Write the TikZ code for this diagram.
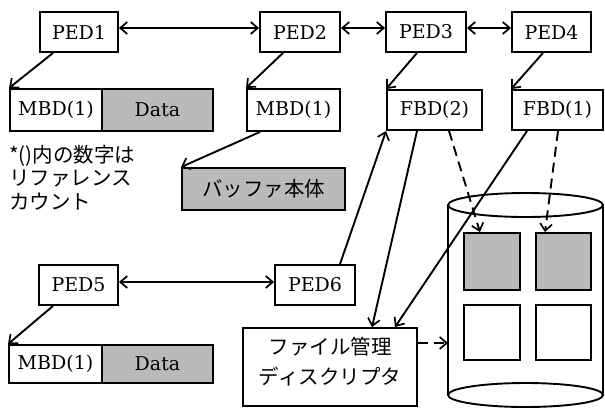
\documentclass[tikz,border=0pt]{standalone}
\usepackage{fontspec}
\setmainfont{DejaVu Serif}
\newfontfamily\jp{Noto Sans CJK JP}
\usetikzlibrary{arrows.meta,calc}
\begin{document}
\begin{tikzpicture}[x=1pt,y=-1pt,
  lw/.style={line width=1.9pt},
  box/.style={draw,lw,rectangle,inner sep=0pt,font=\fontsize{19}{22}\selectfont},
  grayfill/.style={fill=black!27},
  arr/.style={lw,-{Straight Barb[length=7pt,width=12pt,line width=1.7pt]}},
  darr/.style={lw,{Straight Barb[length=7pt,width=12pt,line width=1.7pt]}-{Straight Barb[length=7pt,width=12pt,line width=1.7pt]}},
  dsh/.style={arr,dash pattern=on 10pt off 6pt},
  jt/.style={font=\jp\fontsize{20.5}{23.5}\selectfont}
]
\useasboundingbox (0,0) rectangle (605,408);
% cylinder
\fill[white] (448,205) -- (448,395) arc[start angle=180,end angle=360,x radius=77.5,y radius=12] -- (603,205) -- cycle;
\draw[lw] (448,205) -- (448,395);
\draw[lw] (603,205) -- (603,395);
\draw[lw] (525.5,205) ellipse[x radius=77.5,y radius=12];
\draw[lw] (525.5,395) ellipse[x radius=77.5,y radius=12];
\coordinate (cylL) at (448,343);
% squares
\node[box,grayfill,minimum width=56pt,minimum height=57pt] (G1) at (492,261.5) {};
\node[box,grayfill,minimum width=55pt,minimum height=57pt] (G2) at (563.5,261.5) {};
\node[box,minimum width=56pt,minimum height=55pt] (W1) at (492,332.5) {};
\node[box,minimum width=55pt,minimum height=55pt] (W2) at (563.5,332.5) {};
% top row
\node[box,minimum width=78pt,minimum height=40pt] (PED1) at (79,32) {PED1};
\node[box,minimum width=80pt,minimum height=40pt] (PED2) at (300,32) {PED2};
\node[box,minimum width=80pt,minimum height=40pt] (PED3) at (426,32) {PED3};
\node[box,minimum width=79pt,minimum height=40pt] (PED4) at (551.5,32) {PED4};
% second row
\node[box,minimum width=92pt,minimum height=42pt] (MBDa) at (56,110) {MBD(1)};
\node[box,grayfill,minimum width=111pt,minimum height=42pt] (DataA) at (157.5,110) {Data};
\node[box,minimum width=93pt,minimum height=42pt] (MBDb) at (293.5,110) {MBD(1)};
\node[box,minimum width=95pt,minimum height=40pt] (FBD2) at (434.5,110) {FBD(2)};
\node[box,minimum width=91pt,minimum height=40pt] (FBD1) at (557.5,110) {FBD(1)};
% note
\node[jt,anchor=north west,align=left,inner sep=0pt] (note) at (9,145) {*()内の数字は\\リファレンス\\カウント};
% buffer
\node[box,grayfill,jt,minimum width=163pt,minimum height=42pt] (buf) at (263.5,189) {バッファ本体};
% lower
\node[box,minimum width=79pt,minimum height=40pt] (PED5) at (78.5,285) {PED5};
\node[box,minimum width=80pt,minimum height=40pt] (PED6) at (315,285) {PED6};
\node[box,minimum width=93pt,minimum height=38pt] (MBDc) at (55.5,364) {MBD(1)};
\node[box,grayfill,minimum width=111pt,minimum height=38pt] (DataC) at (157.5,364) {Data};
\node[box,minimum width=174pt,minimum height=78pt] (file) at (330,367) {};
\node[align=center,inner sep=0pt,font=\jp\fontsize{20.5}{30}\selectfont] (filetext) at (330,362) {ファイル管理\\ディスクリプタ};
% connectors
\draw[darr] ([yshift=4pt]PED1.east) -- ([yshift=4pt]PED2.west);
\draw[darr] ([yshift=4pt]PED2.east) -- ([yshift=4pt]PED3.west);
\draw[darr] ([yshift=4pt]PED3.east) -- ([yshift=4pt]PED4.west);
\draw[darr] ([yshift=3pt]PED5.east) -- ([yshift=3pt]PED6.west);
\draw[arr] ([xshift=-26pt]PED1.south) -- (MBDa.north west);
\draw[arr] ([xshift=-17pt]PED2.south) -- (MBDb.north west);
\draw[arr] ([xshift=-9pt]PED3.south) -- (FBD2.north west);
\draw[arr] ([xshift=-8.5pt]PED4.south) -- (FBD1.north west);
\draw[arr] ([xshift=-33.5pt]MBDb.south) -- (buf.north west);
\draw[arr] ([xshift=-25.5pt]PED5.south) -- (MBDc.north west);
\draw[arr] ([xshift=25pt]PED6.north) -- (FBD2.south west);
\draw[arr] ([xshift=-17.5pt]FBD2.south) -- ([xshift=42pt]file.north);
\draw[arr] ([xshift=-30.5pt]FBD1.south) -- ([xshift=65pt]file.north);
\draw[dsh] ([xshift=14.5pt]FBD2.south) -- ([xshift=-12pt]G1.north);
\draw[dsh] ([xshift=0.5pt]FBD1.south) -- ([xshift=-18.5pt]G2.north);
\draw[dsh] (file.east |- cylL) -- (cylL);
\end{tikzpicture}
\end{document}
